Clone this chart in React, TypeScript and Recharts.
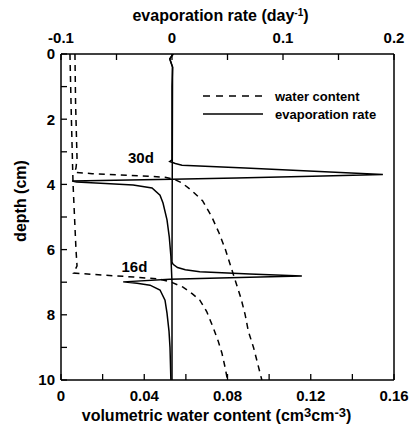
import React from 'react';
import { LineChart, Line, XAxis, YAxis, ReferenceDot, Label } from 'recharts';

const FONT = '"Liberation Sans", Arial, Helvetica, sans-serif';

// Axis ticks
const wcTicks = [0, 0.02, 0.04, 0.06, 0.08, 0.1, 0.12, 0.14, 0.16];
const wcTickLabels = ['0', '', '0.04', '', '0.08', '', '0.12', '', '0.16'];
const erTicks = [-0.1, -0.05, 0, 0.05, 0.1, 0.15, 0.2];
const erTickLabels = ['-0.1', '', '0', '', '0.1', '', '0.2'];
const depthTicks = [0, 1, 2, 3, 4, 5, 6, 7, 8, 9, 10];
const depthTickLabels = ['0', '', '2', '', '4', '', '6', '', '8', '', '10'];

// Water content, 30 d
const wc30Depth = [0, 1.5, 3.2, 3.5, 3.63, 3.67, 3.72, 3.78, 3.85, 3.95, 4.2, 4.5, 5.0, 5.5, 6.0, 6.5, 7.0, 7.5, 8.0, 8.5, 9.0, 9.5, 10];
const wc30Value = [0.0067, 0.007, 0.0077, 0.0072, 0.0065, 0.015, 0.033, 0.05, 0.0545, 0.058, 0.063, 0.068, 0.0725, 0.076, 0.079, 0.0815, 0.084, 0.0865, 0.0885, 0.09, 0.0925, 0.0945, 0.0965];

// Water content, 16 d
const wc16Depth = [0, 2, 4, 6, 6.5, 6.72, 6.78, 6.84, 6.9, 7.0, 7.15, 7.35, 7.55, 7.9, 8.37, 8.8, 9.17, 9.6, 10];
const wc16Value = [0.0043, 0.005, 0.0058, 0.0072, 0.0077, 0.006, 0.02, 0.035, 0.047, 0.053, 0.0586, 0.063, 0.0667, 0.07, 0.073, 0.0755, 0.0773, 0.0788, 0.08];

// Evaporation rate, 30 d
const er30Depth = [0, 0.15, 0.4, 1, 3.25, 3.3, 3.36, 3.41, 3.5, 3.6, 3.7, 3.74, 3.8, 3.84, 3.895, 3.93, 3.97, 4.02, 4.11, 4.33, 4.57, 5.09, 5.6, 6.2, 7, 10];
const er30Value = [0.001, -0.002, 0.0005, 0, 0, -0.002, 0.003, 0.009, 0.066, 0.128, 0.19, 0.136, 0.058, 0, -0.09, -0.086, -0.06, -0.035, -0.018, -0.0108, -0.0081, -0.0045, -0.0025, -0.001, 0, 0];

// Evaporation rate, 16 d
const er16Depth = [0, 0.15, 0.4, 6.38, 6.45, 6.55, 6.62, 6.68, 6.75, 6.81, 6.85, 6.88, 6.91, 6.99, 7.03, 7.09, 7.24, 7.55, 7.95, 8.5, 9.0, 10];
const er16Value = [0.001, -0.002, 0.0005, 0, 0.001, 0.005, 0.012, 0.025, 0.07, 0.117, 0.07, 0.034, -0.002, -0.044, -0.0315, -0.0198, -0.0108, -0.0063, -0.0045, -0.0027, -0.0018, -0.001];

// Curve annotations
const annotationText = ['30d', '16d'];
const annotationDepth = [3.19, 6.53];
const annotationWc = [0.0384, 0.0353];

const zip = (depths: number[], values: number[]) => depths.map((d, i) => ({ depth: d, v: values[i] }));

const wc30 = zip(wc30Depth, wc30Value);
const wc16 = zip(wc16Depth, wc16Value);
const er30 = zip(er30Depth, er30Value);
const er16 = zip(er16Depth, er16Value);

const labelFor = (ticks: number[], labels: string[]) => (v: number) => {
  const i = ticks.findIndex((t) => Math.abs(t - v) < 1e-9);
  return i >= 0 ? labels[i] : '';
};

const tickStyle = { fontSize: 15, fontWeight: 700, fill: '#000', fontFamily: FONT };
const axisLineStyle = { stroke: '#000', strokeWidth: 1.5 };
const tickLineStyle = { stroke: '#000', strokeWidth: 1.3 };

const BottomTitle = (props: any) => {
  const vb = props.viewBox;
  return (
    <text x={vb.x + vb.width / 2 - 11} y={vb.y + vb.height - 4} textAnchor="middle" fontFamily={FONT} fontSize={16} fontWeight={700} fill="#000">
      volumetric water content (cm<tspan dy={-4} fontSize={13}>3</tspan><tspan dy={4}>cm</tspan><tspan dy={-4} fontSize={13}>-3</tspan><tspan dy={4}>)</tspan>
    </text>
  );
};

const TopTitle = (props: any) => {
  const vb = props.viewBox;
  return (
    <text x={vb.x + vb.width / 2 - 7} y={21} textAnchor="middle" fontFamily={FONT} fontSize={16} fontWeight={700} fill="#000">
      evaporation rate (day<tspan dy={-5} fontSize={10}>-1</tspan><tspan dy={5}>)</tspan>
    </text>
  );
};

const LeftTitle = (props: any) => {
  const vb = props.viewBox;
  const cx = 20;
  const cy = vb.y + vb.height / 2 - 16;
  return (
    <text x={cx} y={cy} transform={`rotate(-90 ${cx} ${cy})`} textAnchor="middle" dominantBaseline="central" fontFamily={FONT} fontSize={16} fontWeight={700} fill="#000">
      depth (cm)
    </text>
  );
};

export default function App() {
  return (
    <div style={{ position: 'absolute', left: 0, top: 0, width: 412, height: 425, background: '#fff' }}>
      <LineChart layout="vertical" width={412} height={425} margin={{ top: 0, right: 0, bottom: 0, left: 0 }}>
        <XAxis
          xAxisId="wc"
          type="number"
          orientation="bottom"
          domain={[0, 0.16]}
          ticks={wcTicks}
          interval={0}
          allowDataOverflow
          height={45}
          tickSize={-6}
          tickMargin={16}
          tick={tickStyle}
          axisLine={axisLineStyle}
          tickLine={tickLineStyle}
          tickFormatter={labelFor(wcTicks, wcTickLabels)}
        >
          <Label content={BottomTitle} />
        </XAxis>
        <XAxis
          xAxisId="er"
          type="number"
          orientation="top"
          domain={[-0.1, 0.2]}
          ticks={erTicks}
          interval={0}
          allowDataOverflow
          height={54}
          tickSize={-6}
          tickMargin={17}
          tick={tickStyle}
          axisLine={axisLineStyle}
          tickLine={tickLineStyle}
          tickFormatter={labelFor(erTicks, erTickLabels)}
        >
          <Label content={TopTitle} />
        </XAxis>
        <YAxis
          yAxisId="left"
          type="number"
          dataKey="depth"
          orientation="left"
          domain={[0, 10]}
          ticks={depthTicks}
          interval={0}
          allowDataOverflow
          width={61}
          tickSize={-6}
          tickMargin={12}
          tick={tickStyle}
          axisLine={axisLineStyle}
          tickLine={tickLineStyle}
          tickFormatter={labelFor(depthTicks, depthTickLabels)}
        >
          <Label content={LeftTitle} />
        </YAxis>
        <YAxis
          yAxisId="right"
          type="number"
          orientation="right"
          domain={[0, 10]}
          ticks={depthTicks}
          interval={0}
          allowDataOverflow
          width={18}
          tickSize={-6}
          tickMargin={4}
          tick={tickStyle}
          axisLine={axisLineStyle}
          tickLine={tickLineStyle}
          tickFormatter={() => ''}
        />
        <Line data={wc30} xAxisId="wc" yAxisId="left" dataKey="v" stroke="#000" strokeWidth={1.5} strokeDasharray="6 5" dot={false} isAnimationActive={false} />
        <Line data={wc16} xAxisId="wc" yAxisId="left" dataKey="v" stroke="#000" strokeWidth={1.5} strokeDasharray="6 5" dot={false} isAnimationActive={false} />
        <Line data={er30} xAxisId="er" yAxisId="left" dataKey="v" stroke="#000" strokeWidth={1.5} dot={false} isAnimationActive={false} />
        <Line data={er16} xAxisId="er" yAxisId="left" dataKey="v" stroke="#000" strokeWidth={1.5} dot={false} isAnimationActive={false} />
        {annotationText.map((t, i) => (
          <ReferenceDot
            key={t}
            xAxisId="wc"
            yAxisId="left"
            x={annotationWc[i]}
            y={annotationDepth[i]}
            r={1}
            fill="none"
            stroke="none"
            label={{ value: t, position: 'center', fontSize: 15, fontWeight: 700, fill: '#000', fontFamily: FONT }}
          />
        ))}
      </LineChart>
      <svg width={412} height={425} style={{ position: 'absolute', left: 0, top: 0, pointerEvents: 'none' }}>
        <line x1={203} x2={263} y1={96} y2={96} stroke="#000" strokeWidth={1.5} strokeDasharray="7 6" />
        <text x={275} y={100.5} fontFamily={FONT} fontSize={13} fontWeight={700} fill="#000">water content</text>
        <line x1={203} x2={263} y1={114} y2={114} stroke="#000" strokeWidth={1.5} />
        <text x={275} y={118.5} fontFamily={FONT} fontSize={13} fontWeight={700} fill="#000">evaporation rate</text>
      </svg>
    </div>
  );
}
